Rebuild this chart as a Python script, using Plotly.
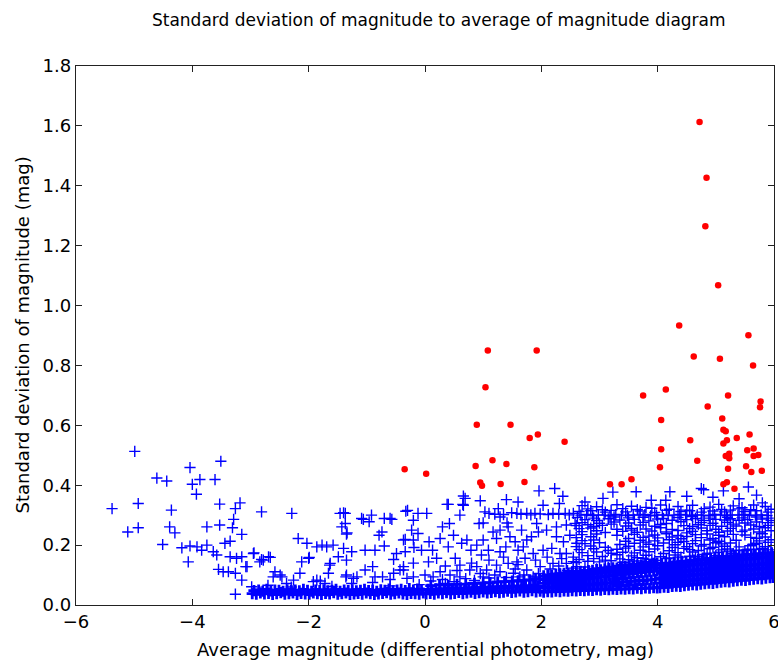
import plotly.graph_objects as go

# ---------------- red (outlier) stars ----------------
red_x = [4.72, 4.84, 4.82, 5.04, 4.37, 5.56, 4.62, 5.07, 5.64, 4.14, 3.75, 5.21, 5.77, 5.76,
         4.86, 4.06, 5.11, 5.13, 5.17, 5.19, 5.13, 5.36, 5.58, 4.56, 2.40, 4.06, 5.54, 5.65,
         5.23, 5.17, 5.23, 5.65, 5.73, 4.04, 4.68, 5.52, 5.21, 5.61, 5.79, 3.18, 3.38, 3.55,
         5.13, 5.19, 5.32, 1.08, 1.92, 1.04, 0.89, 1.47, 1.80, 1.94, -0.35, 0.02, 0.87, 1.16,
         1.40, 1.88, 0.95, 0.98, 1.30, 1.71]
red_y = [1.613, 1.427, 1.265, 1.068, 0.933, 0.901, 0.830, 0.822, 0.800, 0.720, 0.700, 0.700,
         0.680, 0.660, 0.663, 0.618, 0.623, 0.585, 0.580, 0.550, 0.539, 0.558, 0.569, 0.550,
         0.545, 0.520, 0.517, 0.523, 0.505, 0.498, 0.490, 0.498, 0.501, 0.460, 0.482, 0.463,
         0.455, 0.444, 0.448, 0.403, 0.403, 0.420, 0.403, 0.410, 0.388, 0.850, 0.850, 0.727,
         0.602, 0.602, 0.558, 0.569, 0.453, 0.438, 0.464, 0.483, 0.471, 0.460, 0.409, 0.398,
         0.404, 0.411]

# ---------------- blue stars: sparse bright end ----------------
left_pts = [(-4.99, 0.513), (-5.38, 0.322), (-4.93, 0.339), (-5.11, 0.244), (-4.93, 0.258),
            (-4.61, 0.424), (-4.44, 0.414), (-4.36, 0.317), (-4.39, 0.261), (-4.30, 0.241),
            (-4.51, 0.202), (-4.04, 0.459), (-4.00, 0.403), (-3.87, 0.419), (-3.93, 0.370),
            (-3.51, 0.480), (-3.61, 0.419), (-3.53, 0.337), (-3.53, 0.267), (-3.26, 0.322),
            (-3.18, 0.341), (-3.29, 0.286), (-3.31, 0.258), (-3.15, 0.236), (-3.75, 0.261),
            (-4.18, 0.191), (-4.07, 0.144), (-4.04, 0.197), (-3.92, 0.194), (-3.84, 0.183),
            (-3.75, 0.200), (-3.64, 0.178), (-3.58, 0.167), (-3.55, 0.119), (-3.47, 0.111),
            (-3.38, 0.111), (-3.44, 0.206), (-3.35, 0.213), (-3.35, 0.161), (-3.24, 0.156),
            (-3.15, 0.161), (-3.26, 0.106), (-3.15, 0.083), (-3.26, 0.036), (-3.06, 0.128),
            (-2.95, 0.172), (-2.81, 0.311), (-2.84, 0.144), (-2.78, 0.150), (-2.69, 0.161),
            (-2.98, 0.061), (-2.84, 0.044), (-2.58, 0.111), (-2.61, 0.094), (-2.49, 0.100),
            (-2.29, 0.306), (-2.38, 0.072), (-2.26, 0.083), (-2.18, 0.222), (-2.15, 0.106),
            (-2.12, 0.144), (-2.03, 0.206), (-2.00, 0.156), (-1.86, 0.194), (-1.77, 0.200),
            (-1.69, 0.194), (-1.58, 0.200), (-1.86, 0.083), (-1.72, 0.072), (-1.63, 0.139),
            (-1.66, 0.106), (-1.46, 0.306), (-1.37, 0.306), (-1.43, 0.261), (-1.37, 0.272),
            (-1.35, 0.237), (-1.40, 0.189), (-1.26, 0.178), (-1.35, 0.150), (-1.49, 0.161),
            (-1.35, 0.100), (-1.23, 0.089), (-2.94, 0.174), (-2.81, 0.152), (-2.66, 0.159),
            (-3.08, 0.128), (-2.46, 0.094), (-1.99, 0.159), (-1.92, 0.078), (-1.80, 0.080),
            (-1.64, 0.133), (-1.36, 0.094), (-1.17, 0.094), (-1.26, 0.072), (-1.34, 0.241)]

# ---------------- blue stars: middle scatter ----------------
mid_pts = [(-1.06, 0.286), (-0.92, 0.300), (-0.96, 0.278), (-0.70, 0.289), (-0.57, 0.286),
           (-0.74, 0.244), (-0.79, 0.233), (-1.03, 0.183), (-0.86, 0.183), (-0.70, 0.197),
           (-0.54, 0.152), (-0.49, 0.172), (-0.37, 0.217), (-0.34, 0.178), (-1.03, 0.117),
           (-0.90, 0.128), (-0.86, 0.094), (-0.73, 0.094), (-0.54, 0.106), (-0.43, 0.117),
           (-0.37, 0.128), (-0.33, 0.313), (-0.31, 0.089), (-1.40, 0.308), (-1.09, 0.289),
           (-0.60, 0.289), (-0.30, 0.316), (-0.12, 0.306), (0.03, 0.306), (-0.20, 0.283),
           (-0.23, 0.250), (-0.12, 0.239), (-0.34, 0.219), (-0.20, 0.217), (-0.19, 0.192),
           (-0.06, 0.183), (0.07, 0.211), (0.06, 0.144), (0.20, 0.156), (0.13, 0.183),
           (0.26, 0.222), (0.30, 0.261), (0.42, 0.272), (0.49, 0.233), (0.40, 0.194),
           (0.52, 0.156), (0.60, 0.133), (0.63, 0.206), (0.72, 0.217), (0.79, 0.183),
           (0.60, 0.300), (0.66, 0.333), (0.93, 0.272), (1.00, 0.274), (1.03, 0.311),
           (1.10, 0.306), (1.17, 0.244), (1.26, 0.322), (1.29, 0.294), (1.41, 0.274),
           (1.49, 0.308), (1.58, 0.306), (1.75, 0.306), (1.89, 0.306), (2.03, 0.333),
           (2.20, 0.306), (2.41, 0.306), (2.55, 0.306), (0.89, 0.200), (1.00, 0.217),
           (0.97, 0.167), (1.09, 0.183), (1.23, 0.222), (1.29, 0.178), (1.39, 0.194),
           (1.46, 0.228), (1.55, 0.211), (1.60, 0.183), (1.69, 0.194), (1.75, 0.217),
           (1.66, 0.250), (1.43, 0.261), (1.29, 0.250), (1.83, 0.228), (1.92, 0.272),
           (1.95, 0.244), (2.09, 0.250), (2.26, 0.261), (2.43, 0.267), (2.58, 0.272),
           (2.26, 0.228), (2.38, 0.211), (2.49, 0.233), (2.61, 0.206), (2.18, 0.189),
           (2.32, 0.172), (2.43, 0.172), (2.03, 0.183), (1.86, 0.172), (1.72, 0.156),
           (1.58, 0.144), (1.43, 0.139), (1.23, 0.133), (1.06, 0.117), (0.89, 0.128),
           (0.77, 0.117), (1.00, 0.094), (1.29, 0.111), (1.52, 0.106), (1.75, 0.117),
           (1.98, 0.128), (2.20, 0.139), (2.43, 0.139), (2.61, 0.128), (0.26, 0.111),
           (0.00, 0.100), (-0.20, 0.094), (-0.37, 0.117), (0.43, 0.100), (0.60, 0.094),
           (0.14, 0.094), (2.12, 0.100), (1.86, 0.094), (1.63, 0.094), (2.32, 0.106),
           (2.49, 0.100), (0.38, 0.336), (0.65, 0.336), (0.66, 0.364), (0.69, 0.356),
           (0.95, 0.348), (0.40, 0.336), (1.40, 0.352), (1.60, 0.344), (1.96, 0.381),
           (2.23, 0.389), (2.37, 0.363), (2.31, 0.339), (1.20, 0.303), (1.35, 0.302),
           (1.65, 0.303), (1.82, 0.301), (1.98, 0.304), (2.12, 0.302), (2.30, 0.303),
           (2.48, 0.301), (1.36, 0.077), (1.84, 0.082), (2.06, 0.088), (0.35, 0.072),
           (-0.60, 0.064), (-1.60, 0.062), (-2.30, 0.060), (-2.70, 0.066), (-0.10, 0.068),
           (0.10, 0.080), (0.30, 0.085), (0.50, 0.078), (0.70, 0.088), (0.85, 0.082),
           (1.10, 0.090), (1.20, 0.100), (1.40, 0.092), (1.55, 0.120), (1.70, 0.100),
           (1.95, 0.105), (2.15, 0.120), (2.30, 0.130), (2.45, 0.115), (0.35, 0.130),
           (0.55, 0.115), (0.80, 0.140), (1.10, 0.150), (1.35, 0.160), (1.90, 0.150),
           (2.10, 0.160), (2.35, 0.155), (2.55, 0.145), (-0.60, 0.085), (-0.90, 0.075),
           (-0.20, 0.140), (0.95, 0.105), (1.60, 0.135), (2.20, 0.090), (2.40, 0.085)]

# ---------------- blue stars: faint-end scatter ----------------
right_pts = [(2.70, 0.332), (2.95, 0.328), (3.30, 0.335), (3.55, 0.330), (3.80, 0.326),
             (4.05, 0.334), (4.35, 0.329), (4.60, 0.333), (4.90, 0.327), (5.05, 0.336),
             (5.30, 0.331), (5.45, 0.325), (5.65, 0.334), (5.85, 0.329),
             (2.65, 0.312), (2.85, 0.315), (3.10, 0.310), (3.20, 0.316), (3.45, 0.311),
             (3.70, 0.314), (3.95, 0.309), (4.15, 0.316), (4.40, 0.312), (4.55, 0.315),
             (4.75, 0.310), (4.95, 0.314), (5.15, 0.311), (5.25, 0.317), (5.50, 0.312),
             (5.70, 0.315), (5.90, 0.310),
             (2.68, 0.300), (2.78, 0.302), (2.88, 0.299), (2.98, 0.301), (3.08, 0.300),
             (3.18, 0.298), (3.28, 0.302), (3.38, 0.300), (3.48, 0.299), (3.58, 0.301),
             (3.68, 0.300), (3.78, 0.302), (3.88, 0.298), (3.98, 0.300), (4.08, 0.301),
             (4.18, 0.299), (4.28, 0.300), (4.38, 0.302), (4.48, 0.300), (4.58, 0.299),
             (4.68, 0.301), (4.78, 0.300), (4.88, 0.298), (4.98, 0.302), (5.08, 0.300),
             (5.18, 0.299), (5.28, 0.301), (5.38, 0.300), (5.48, 0.302), (5.58, 0.299),
             (5.68, 0.300), (5.78, 0.301), (5.88, 0.299),
             (2.75, 0.285), (2.95, 0.282), (3.15, 0.288), (3.35, 0.284), (3.60, 0.286),
             (3.85, 0.281), (4.00, 0.287), (4.25, 0.283), (4.50, 0.285), (4.65, 0.289),
             (4.80, 0.282), (5.00, 0.286), (5.15, 0.284), (5.25, 0.288), (5.40, 0.283),
             (5.55, 0.285), (5.80, 0.287), (5.95, 0.282),
             (2.60, 0.265), (2.80, 0.268), (2.90, 0.262), (3.05, 0.266), (3.20, 0.270),
             (3.45, 0.264), (3.70, 0.267), (3.95, 0.263), (4.05, 0.269), (4.45, 0.265),
             (4.60, 0.262), (4.70, 0.268), (4.90, 0.266), (5.10, 0.263), (5.30, 0.270),
             (5.35, 0.264), (5.60, 0.267), (5.75, 0.262), (5.90, 0.266),
             (2.70, 0.245), (2.95, 0.248), (3.10, 0.242), (3.40, 0.246), (3.55, 0.250),
             (3.65, 0.243), (3.90, 0.247), (4.15, 0.244), (4.35, 0.249), (4.50, 0.241),
             (4.60, 0.246), (4.85, 0.248), (5.05, 0.243), (5.20, 0.247), (5.45, 0.245),
             (5.50, 0.250), (5.75, 0.244), (5.95, 0.248),
             (2.60, 0.225), (2.85, 0.228), (3.50, 0.222), (3.75, 0.226), (3.85, 0.230),
             (4.00, 0.224), (4.25, 0.227), (4.40, 0.221), (4.50, 0.229), (4.75, 0.225),
             (4.95, 0.222), (5.15, 0.228), (5.60, 0.226), (5.70, 0.223), (5.85, 0.227),
             (2.75, 0.205), (3.00, 0.208), (3.35, 0.202), (3.60, 0.206), (3.80, 0.210),
             (3.85, 0.203), (4.10, 0.207), (4.30, 0.201), (4.35, 0.209), (4.60, 0.205),
             (4.80, 0.202), (5.00, 0.208), (5.10, 0.204), (5.25, 0.207), (5.65, 0.203),
             (5.70, 0.206), (5.90, 0.209),
             (2.65, 0.185), (2.90, 0.188), (3.15, 0.182), (3.30, 0.186), (3.45, 0.190),
             (3.70, 0.183), (3.95, 0.187), (4.20, 0.181), (4.45, 0.189), (4.55, 0.185),
             (4.70, 0.182), (4.90, 0.188), (5.10, 0.184), (5.20, 0.187), (5.35, 0.183),
             (5.55, 0.186), (5.80, 0.189), (5.95, 0.184),
             (2.80, 0.165), (3.05, 0.162), (3.30, 0.168), (3.55, 0.164), (3.80, 0.166),
             (4.05, 0.161), (4.30, 0.167), (4.55, 0.163), (4.80, 0.169), (5.00, 0.165),
             (5.20, 0.162), (5.45, 0.168), (5.65, 0.171), (5.90, 0.175), (2.55, 0.160),
             (3.65, 0.158), (4.15, 0.155), (4.65, 0.160), (5.30, 0.172),
             (2.60, 0.142), (2.80, 0.146), (3.00, 0.144), (3.20, 0.148), (3.40, 0.143),
             (3.60, 0.147), (3.80, 0.145), (3.95, 0.149),
             (2.55, 0.123), (2.75, 0.127), (2.95, 0.121), (3.15, 0.126), (3.35, 0.124),
             (3.23, 0.377), (3.63, 0.378), (4.21, 0.378), (4.50, 0.363), (4.75, 0.389),
             (4.79, 0.385), (5.13, 0.381), (5.56, 0.394), (5.70, 0.367), (5.80, 0.341),
             (2.75, 0.344), (3.06, 0.356), (3.89, 0.350), (4.14, 0.350), (4.95, 0.360),
             (5.40, 0.355),
             (2.80, 0.321), (3.05, 0.318), (3.40, 0.322), (3.65, 0.319), (3.90, 0.323),
             (4.20, 0.320), (4.50, 0.317), (4.80, 0.322), (5.10, 0.319), (5.40, 0.321),
             (5.60, 0.318), (5.95, 0.320),
             (2.62, 0.292), (2.90, 0.290), (3.25, 0.294), (3.50, 0.291), (3.75, 0.293),
             (4.10, 0.289), (4.35, 0.292), (4.60, 0.295), (4.90, 0.290), (5.20, 0.293),
             (5.45, 0.291), (5.70, 0.294), (5.90, 0.290),
             (2.70, 0.275), (3.00, 0.273), (3.25, 0.277), (3.50, 0.274), (3.75, 0.276),
             (4.15, 0.272), (4.40, 0.278), (4.75, 0.275), (4.95, 0.273), (5.20, 0.276),
             (5.50, 0.274), (5.70, 0.277), (5.90, 0.275),
             (2.65, 0.255), (2.85, 0.257), (3.30, 0.253), (3.55, 0.256), (3.80, 0.254),
             (4.05, 0.258), (4.25, 0.252), (4.55, 0.255), (4.75, 0.257), (5.00, 0.253),
             (5.25, 0.256), (5.65, 0.254), (5.85, 0.258),
             (2.70, 0.235), (2.95, 0.237), (3.30, 0.233), (3.60, 0.236), (3.95, 0.234),
             (4.15, 0.238), (4.35, 0.232), (4.65, 0.235), (4.85, 0.237), (5.05, 0.233),
             (5.30, 0.236), (5.50, 0.234), (5.80, 0.238),
             (2.70, 0.215), (2.90, 0.217), (3.45, 0.213), (3.70, 0.216), (3.95, 0.214),
             (4.20, 0.218), (4.45, 0.212), (4.65, 0.215), (4.90, 0.217), (5.05, 0.213),
             (5.35, 0.216), (5.75, 0.214), (5.95, 0.218),
             (2.60, 0.195), (2.85, 0.197), (3.10, 0.193), (3.50, 0.196), (3.75, 0.194),
             (4.00, 0.198), (4.25, 0.192), (4.50, 0.195), (4.75, 0.197), (4.95, 0.193),
             (5.15, 0.196), (5.40, 0.194), (5.60, 0.198), (5.85, 0.195),
             (2.70, 0.175), (2.95, 0.177), (3.20, 0.173), (3.40, 0.176), (3.60, 0.174),
             (3.85, 0.178), (4.10, 0.172), (4.35, 0.175), (4.60, 0.177), (4.85, 0.173),
             (5.05, 0.176), (5.25, 0.180), (5.50, 0.182), (5.75, 0.185),
             (2.65, 0.152), (2.90, 0.155), (3.10, 0.150), (3.35, 0.154), (3.50, 0.151),
             (3.75, 0.156), (3.90, 0.153), (4.20, 0.157), (4.40, 0.160), (4.70, 0.163)]

# ---------------- blue stars: dense faint band ----------------
s1a_x = [-2.97, -2.9, -2.83, -2.76, -2.69, -2.62, -2.55, -2.48, -2.41, -2.34, -2.27, -2.2,
         -2.13, -2.06, -1.99, -1.92, -1.85, -1.78, -1.71, -1.64, -1.57, -1.5, -1.43, -1.36,
         -1.29, -1.22, -1.15, -1.08, -1.01, -0.94, -0.87, -0.8, -0.73, -0.66, -0.59, -0.52,
         -0.45, -0.38, -0.31, -0.24, -0.17, -0.1, -0.03]
s1a_y = [0.038, 0.036, 0.04, 0.037, 0.039, 0.035, 0.038, 0.041, 0.036, 0.038, 0.04, 0.035,
         0.039, 0.037, 0.036, 0.04, 0.038, 0.035, 0.039, 0.037, 0.041, 0.036, 0.038, 0.04,
         0.035, 0.037, 0.039, 0.036, 0.04, 0.038, 0.035, 0.037, 0.039, 0.041, 0.036, 0.038,
         0.04, 0.037, 0.035, 0.039, 0.038, 0.036, 0.04]
s1b_x = [-2.94, -2.86, -2.79, -2.72, -2.65, -2.58, -2.51, -2.44, -2.37, -2.3, -2.23, -2.16,
         -2.09, -2.02, -1.95, -1.88, -1.81, -1.74, -1.67, -1.6, -1.53, -1.46, -1.39, -1.32,
         -1.25, -1.18, -1.11, -1.04, -0.97, -0.9, -0.83, -0.76, -0.69, -0.62, -0.55, -0.48,
         -0.41, -0.34, -0.27, -0.2, -0.13, -0.06]
s1b_y = [0.048, 0.05, 0.046, 0.052, 0.047, 0.05, 0.049, 0.046, 0.051, 0.048, 0.05, 0.047,
         0.052, 0.049, 0.046, 0.05, 0.048, 0.051, 0.047, 0.049, 0.052, 0.046, 0.05, 0.048,
         0.051, 0.047, 0.049, 0.052, 0.048, 0.05, 0.046, 0.051, 0.049, 0.053, 0.047, 0.05,
         0.052, 0.048, 0.055, 0.05, 0.053, 0.051]

s2a_x = [0.02, 0.09, 0.16, 0.23, 0.3, 0.37, 0.44, 0.51, 0.58, 0.65, 0.72, 0.79, 0.86, 0.93,
         1.0, 1.07, 1.14, 1.21, 1.28, 1.35, 1.42, 1.49, 1.56, 1.63, 1.7, 1.77, 1.84, 1.91, 1.98]
s2a_y = [0.037, 0.039, 0.036, 0.04, 0.038, 0.041, 0.037, 0.039, 0.042, 0.038, 0.04, 0.043,
         0.039, 0.041, 0.044, 0.04, 0.042, 0.045, 0.041, 0.043, 0.046, 0.042, 0.044, 0.047,
         0.043, 0.045, 0.048, 0.044, 0.046]
s2b_x = [0.05, 0.12, 0.19, 0.26, 0.33, 0.4, 0.47, 0.54, 0.61, 0.68, 0.75, 0.82, 0.89, 0.96,
         1.03, 1.1, 1.17, 1.24, 1.31, 1.38, 1.45, 1.52, 1.59, 1.66, 1.73, 1.8, 1.87, 1.94]
s2b_y = [0.052, 0.05, 0.054, 0.051, 0.055, 0.053, 0.056, 0.052, 0.057, 0.055, 0.058, 0.054,
         0.059, 0.057, 0.06, 0.056, 0.061, 0.059, 0.062, 0.058, 0.063, 0.061, 0.064, 0.06,
         0.065, 0.063, 0.066, 0.062]
s2c_x = [0.1, 0.25, 0.4, 0.55, 0.7, 0.85, 1.0, 1.12, 1.25, 1.37, 1.5, 1.6, 1.7, 1.8, 1.9, 1.97]
s2c_y = [0.065, 0.067, 0.066, 0.069, 0.07, 0.072, 0.074, 0.075, 0.077, 0.078, 0.08, 0.081,
         0.083, 0.084, 0.086, 0.088]

s3a_x = [2.04, 2.11, 2.18, 2.25, 2.32, 2.39, 2.46, 2.53, 2.6, 2.67, 2.74, 2.81, 2.88, 2.95,
         3.02, 3.09, 3.16, 3.23, 3.3, 3.37, 3.44, 3.51, 3.58, 3.65, 3.72, 3.79, 3.86, 3.93, 3.99]
s3b_x = [2.07, 2.14, 2.21, 2.28, 2.35, 2.42, 2.49, 2.56, 2.63, 2.7, 2.77, 2.84, 2.91, 2.98,
         3.05, 3.12, 3.19, 3.26, 3.33, 3.4, 3.47, 3.54, 3.61, 3.68, 3.75, 3.82, 3.89, 3.96]
s3a_y = [0.043, 0.045, 0.044, 0.046, 0.045, 0.047, 0.046, 0.048, 0.047, 0.049, 0.048, 0.05,
         0.049, 0.051, 0.05, 0.052, 0.051, 0.053, 0.052, 0.054, 0.053, 0.055, 0.054, 0.056,
         0.055, 0.057, 0.056, 0.058, 0.057]
s3b_y = [0.058, 0.06, 0.059, 0.062, 0.061, 0.064, 0.063, 0.066, 0.065, 0.068, 0.067, 0.07,
         0.069, 0.072, 0.071, 0.074, 0.073, 0.076, 0.075, 0.078, 0.077, 0.08, 0.079, 0.082,
         0.081, 0.084, 0.083, 0.086]
s3c_y = [0.072, 0.074, 0.075, 0.077, 0.078, 0.08, 0.081, 0.083, 0.084, 0.086, 0.087, 0.089,
         0.09, 0.092, 0.093, 0.095, 0.096, 0.098, 0.099, 0.101, 0.102, 0.104, 0.105, 0.107,
         0.108, 0.11, 0.111, 0.113, 0.114]
s3d_y = [0.084, 0.088, 0.086, 0.09, 0.092, 0.095, 0.094, 0.098, 0.1, 0.102, 0.101, 0.105,
         0.107, 0.108, 0.11, 0.113, 0.112, 0.116, 0.118, 0.119, 0.121, 0.123, 0.122, 0.126,
         0.128, 0.129, 0.131, 0.133]
s3e_y = [0.097, 0.1, 0.099, 0.103, 0.104, 0.106, 0.105, 0.109, 0.11, 0.112, 0.111, 0.115,
         0.116, 0.118, 0.117, 0.121, 0.122, 0.124, 0.123, 0.127, 0.128, 0.13, 0.129, 0.133,
         0.134, 0.136, 0.135, 0.139, 0.14]

s4a_x = [4.04, 4.11, 4.18, 4.25, 4.32, 4.39, 4.46, 4.53, 4.6, 4.67, 4.74, 4.81, 4.88, 4.95,
         5.02, 5.09, 5.16, 5.23, 5.3, 5.37, 5.44, 5.51, 5.58, 5.65, 5.72, 5.79, 5.86, 5.93, 5.98]
s4b_x = [4.07, 4.14, 4.21, 4.28, 4.35, 4.42, 4.49, 4.56, 4.63, 4.7, 4.77, 4.84, 4.91, 4.98,
         5.05, 5.12, 5.19, 5.26, 5.33, 5.4, 5.47, 5.54, 5.61, 5.68, 5.75, 5.82, 5.89, 5.96]
s4a_y = [0.058, 0.06, 0.059, 0.062, 0.063, 0.062, 0.065, 0.066, 0.068, 0.067, 0.07, 0.071,
         0.073, 0.072, 0.075, 0.076, 0.078, 0.077, 0.08, 0.081, 0.083, 0.082, 0.085, 0.086,
         0.088, 0.087, 0.09, 0.091, 0.092]
s4b_y = [0.074, 0.075, 0.077, 0.078, 0.08, 0.079, 0.082, 0.083, 0.085, 0.084, 0.087, 0.088,
         0.09, 0.089, 0.092, 0.093, 0.095, 0.094, 0.097, 0.098, 0.1, 0.099, 0.102, 0.103,
         0.104, 0.103, 0.106, 0.107]
s4c_y = [0.09, 0.092, 0.091, 0.094, 0.095, 0.097, 0.096, 0.099, 0.1, 0.102, 0.101, 0.104,
         0.105, 0.107, 0.106, 0.109, 0.11, 0.112, 0.111, 0.114, 0.115, 0.117, 0.116, 0.119,
         0.12, 0.122, 0.121, 0.124, 0.125]
s4d_y = [0.106, 0.108, 0.107, 0.11, 0.111, 0.113, 0.112, 0.115, 0.116, 0.118, 0.117, 0.12,
         0.121, 0.123, 0.122, 0.125, 0.126, 0.128, 0.127, 0.13, 0.131, 0.133, 0.132, 0.135,
         0.136, 0.138, 0.137, 0.14]
s4e_y = [0.122, 0.125, 0.123, 0.127, 0.128, 0.13, 0.129, 0.133, 0.134, 0.136, 0.135, 0.139,
         0.14, 0.142, 0.141, 0.145, 0.146, 0.148, 0.147, 0.151, 0.152, 0.154, 0.153, 0.156,
         0.157, 0.159, 0.158, 0.161, 0.162]
s4f_y = [0.138, 0.14, 0.139, 0.143, 0.144, 0.146, 0.145, 0.149, 0.15, 0.152, 0.151, 0.155,
         0.156, 0.158, 0.157, 0.161, 0.162, 0.164, 0.163, 0.166, 0.167, 0.169, 0.168, 0.17,
         0.171, 0.173, 0.172, 0.174]

band_rows = [(s1a_x, s1a_y), (s1b_x, s1b_y), (s2a_x, s2a_y), (s2b_x, s2b_y), (s2c_x, s2c_y),
             (s3a_x, s3a_y), (s3b_x, s3b_y), (s3a_x, s3c_y), (s3b_x, s3d_y), (s3a_x, s3e_y),
             (s4a_x, s4a_y), (s4b_x, s4b_y), (s4a_x, s4c_y), (s4b_x, s4d_y), (s4a_x, s4e_y),
             (s4b_x, s4f_y)]

band_x, band_y = [], []
for xs, ys in band_rows:
    for a, b in zip(xs, ys):
        band_x.append(a)
        band_y.append(b)
scat_x, scat_y = [], []
for pts in (left_pts, mid_pts, right_pts):
    for a, b in pts:
        scat_x.append(a)
        scat_y.append(b)

FONT = "DejaVu Sans"
fig = go.Figure()
fig.add_trace(go.Scatter(
    x=band_x, y=band_y, mode="markers",
    marker=dict(symbol="cross-thin", size=8, color="blue",
                line=dict(color="blue", width=2.8)),
    hoverinfo="x+y"))
fig.add_trace(go.Scatter(
    x=scat_x, y=scat_y, mode="markers",
    marker=dict(symbol="cross-thin", size=8, color="blue",
                line=dict(color="blue", width=1.4)),
    hoverinfo="x+y"))
fig.add_trace(go.Scatter(
    x=red_x, y=red_y, mode="markers",
    marker=dict(symbol="circle", size=6.5, color="red", line=dict(width=0)),
    hoverinfo="x+y"))

axis_common = dict(showline=True, linecolor="#222222", linewidth=1.3, mirror="ticks",
                   ticks="inside", ticklen=6, tickwidth=1, tickcolor="#222222",
                   showgrid=False, zeroline=False, ticklabeloverflow="allow",
                   automargin=False,
                   tickfont=dict(family=FONT, size=18, color="black"))

fig.update_layout(
    width=778, height=660,
    margin=dict(l=76, r=4, t=66, b=55),
    plot_bgcolor="white", paper_bgcolor="white",
    showlegend=False,
    font=dict(family=FONT, color="black"),
    title=dict(text="Standard deviation of magnitude to average of magnitude diagram",
               x=0.564, xref="container", xanchor="center",
               y=1 - 20 / 660, yref="container", yanchor="middle",
               font=dict(family=FONT, size=17, color="black")),
    xaxis=dict(range=[-6, 6], dtick=2, tick0=-6, **axis_common),
    yaxis=dict(range=[0, 1.8], dtick=0.2, tick0=0, tickformat=".1f", **axis_common),
    annotations=[
        dict(text="Average magnitude (differential photometry, mag)",
             xref="paper", yref="paper", x=0.5, y=-45 / 540,
             xanchor="center", yanchor="middle", showarrow=False,
             font=dict(family=FONT, size=18, color="black")),
        dict(text="Standard deviation of magnitude (mag)",
             xref="paper", yref="paper", x=-54 / 698, y=0.5, textangle=-90,
             xanchor="center", yanchor="middle", showarrow=False,
             font=dict(family=FONT, size=18, color="black")),
    ],
)

fig.write_html("out.html")
